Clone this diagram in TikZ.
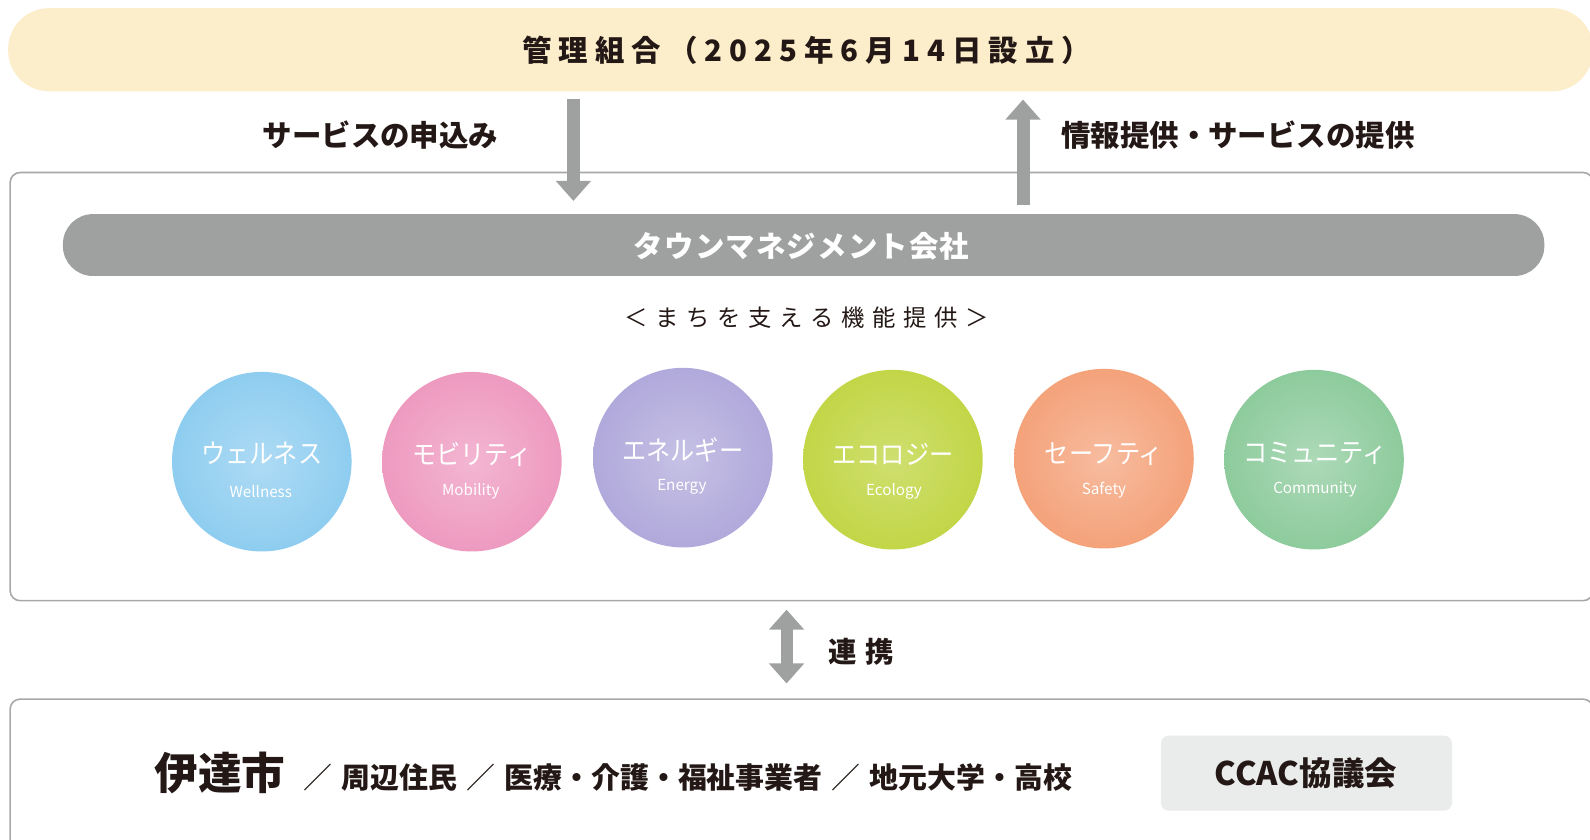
\documentclass[tikz,border=0pt]{standalone}
\usepackage{fontspec}
\usetikzlibrary{arrows.meta}
\newfontfamily\jp{Noto Sans CJK JP}
\newfontfamily\jpc[FakeStretch=0.9]{Noto Sans CJK JP}
\definecolor{ink}{HTML}{231815}
\definecolor{agray}{HTML}{9FA0A0}
\definecolor{lgray}{HTML}{A8A8A8}
\definecolor{cream}{HTML}{FDEECB}
\definecolor{ccacbg}{HTML}{EAEBEB}
\definecolor{cwell}{HTML}{8ECDF0}
\definecolor{cmob}{HTML}{EE9AC0}
\definecolor{cene}{HTML}{B0A9DB}
\definecolor{ceco}{HTML}{C2D647}
\definecolor{csaf}{HTML}{F4A27A}
\definecolor{ccom}{HTML}{8DCB9C}
\tikzset{
  txt/.style={inner sep=0pt, text=ink, font=\jp\bfseries\fontsize{29}{32}\selectfont},
  bigarrow/.style={draw=agray, line width=13pt, -{Triangle[width=34pt,length=20pt]}},
  dblarrow/.style={draw=agray, line width=12pt, {Triangle[width=34pt,length=20pt]}-{Triangle[width=34pt,length=20pt]}},
  frame/.style={draw=lgray, line width=1.6pt, rounded corners=10pt, inner sep=0pt},
  bubble/.style={circle, minimum size=177pt, inner sep=0pt},
  bjp/.style={inner sep=0pt, text=white, font=\jpc\fontsize{26.5}{29}\selectfont},
  ben/.style={inner sep=0pt, text=white, font=\jp\fontsize{15}{17}\selectfont},
}
\newcommand{\sep}{\hspace{9pt}{\mdseries ／}\hspace{9pt}}
\begin{document}
\begin{tikzpicture}[x=1pt,y=-1pt,scale=1.0147,transform shape]
\clip (0,0) rectangle (1567,827.8);
\fill[white] (0,0) rectangle (1567,827.8);
% top pill
\node[fill=cream, rounded corners=41pt, minimum width=1562pt, minimum height=82pt, inner sep=0pt] (kanri) at (789,49) {};
\node[txt, font=\jp\bfseries\fontsize{29}{32}\selectfont\addfontfeatures{LetterSpace=24}] (kanrit) at (795,50) {管理組合（2025年6月14日設立）};
% middle frame
\node[frame, minimum width=1560pt, minimum height=422pt] (mid) at (790,381) {};
% bottom frame
\node[frame, minimum width=1560pt, minimum height=175pt] (bot) at (790,776.5) {};
% management company pill
\node[fill=agray, rounded corners=30pt, minimum width=1460pt, minimum height=61pt, inner sep=0pt] (tmc) at (792,241.5) {};
\node[txt, text=white, font=\jp\bfseries\fontsize{29}{32}\selectfont\addfontfeatures{LetterSpace=4}] (tmct) at (790,243) {タウンマネジメント会社};
% subtitle
\node[txt, font=\jp\fontsize{23}{26}\selectfont\addfontfeatures{LetterSpace=33}] (sub) at (795,313) {＜まちを支える機能提供＞};
% arrows
\coordinate (dn) at (565,0);
\coordinate (up) at (1008,0);
\coordinate (both) at (775,0);
\draw[bigarrow, shorten <=7pt, shorten >=13pt] (kanri.south -| dn) -- (tmc.north -| dn);
\draw[bigarrow, shorten <=9pt, shorten >=8pt] (tmc.north -| up) -- (kanri.south -| up);
\draw[dblarrow, shorten <=8pt, shorten >=15pt] (mid.south -| both) -- (bot.north -| both);
\node[txt] (l1) at (375,133) {サービスの申込み};
\node[txt] (l2) at (1220,133) {情報提供・サービスの提供};
\node[txt, font=\jp\bfseries\fontsize{28}{30}\selectfont\addfontfeatures{LetterSpace=30}] (l3) at (849,642) {連携};
% bubbles
\node[bubble, inner color=cwell!72, outer color=cwell] (c1) at (258,455) {};
\node[bubble, inner color=cmob!72, outer color=cmob] (c2) at (465,455) {};
\node[bubble, inner color=cene!72, outer color=cene] (c3) at (673,451) {};
\node[bubble, inner color=ceco!78, outer color=ceco] (c4) at (880,453) {};
\node[bubble, inner color=csaf!72, outer color=csaf] (c5) at (1088,452) {};
\node[bubble, inner color=ccom!72, outer color=ccom] (c6) at (1295,453) {};
\node[bjp] (j1) at (258,447) {ウェルネス};
\node[ben] (e1) at (257,484) {Wellness};
\node[bjp] (j2) at (465,448) {モビリティ};
\node[ben] (e2) at (464,484) {Mobility};
\node[bjp] (j3) at (673,443) {エネルギー};
\node[ben] (e3) at (672,480) {Energy};
\node[bjp] (j4) at (880,448) {エコロジー};
\node[ben] (e4) at (881,484) {Ecology};
\node[bjp] (j5) at (1088,448) {セーフティ};
\node[ben] (e5) at (1088,483) {Safety};
\node[bjp] (j6) at (1296,447) {コミュニティ};
\node[ben] (e6) at (1296,482) {Community};
% bottom contents
\node[txt, anchor=west, font=\jp\bfseries\fontsize{43}{46}\selectfont] (date) at (152,762) {伊達市};
\node[txt, anchor=west, font=\jp\bfseries\fontsize{28.5}{31}\selectfont] (others) at (299,766) {{\mdseries ／}\hspace{9pt}周辺住民\sep 医療・介護・福祉事業者\sep 地元大学・高校};
\node[fill=ccacbg, rounded corners=8pt, minimum width=287pt, minimum height=74pt, inner sep=0pt] (ccac) at (1287.5,762) {};
\node[txt, font=\jp\bfseries\fontsize{32}{35}\selectfont] (ccact) at (1287,762) {CCAC協議会};
\end{tikzpicture}
\end{document}
